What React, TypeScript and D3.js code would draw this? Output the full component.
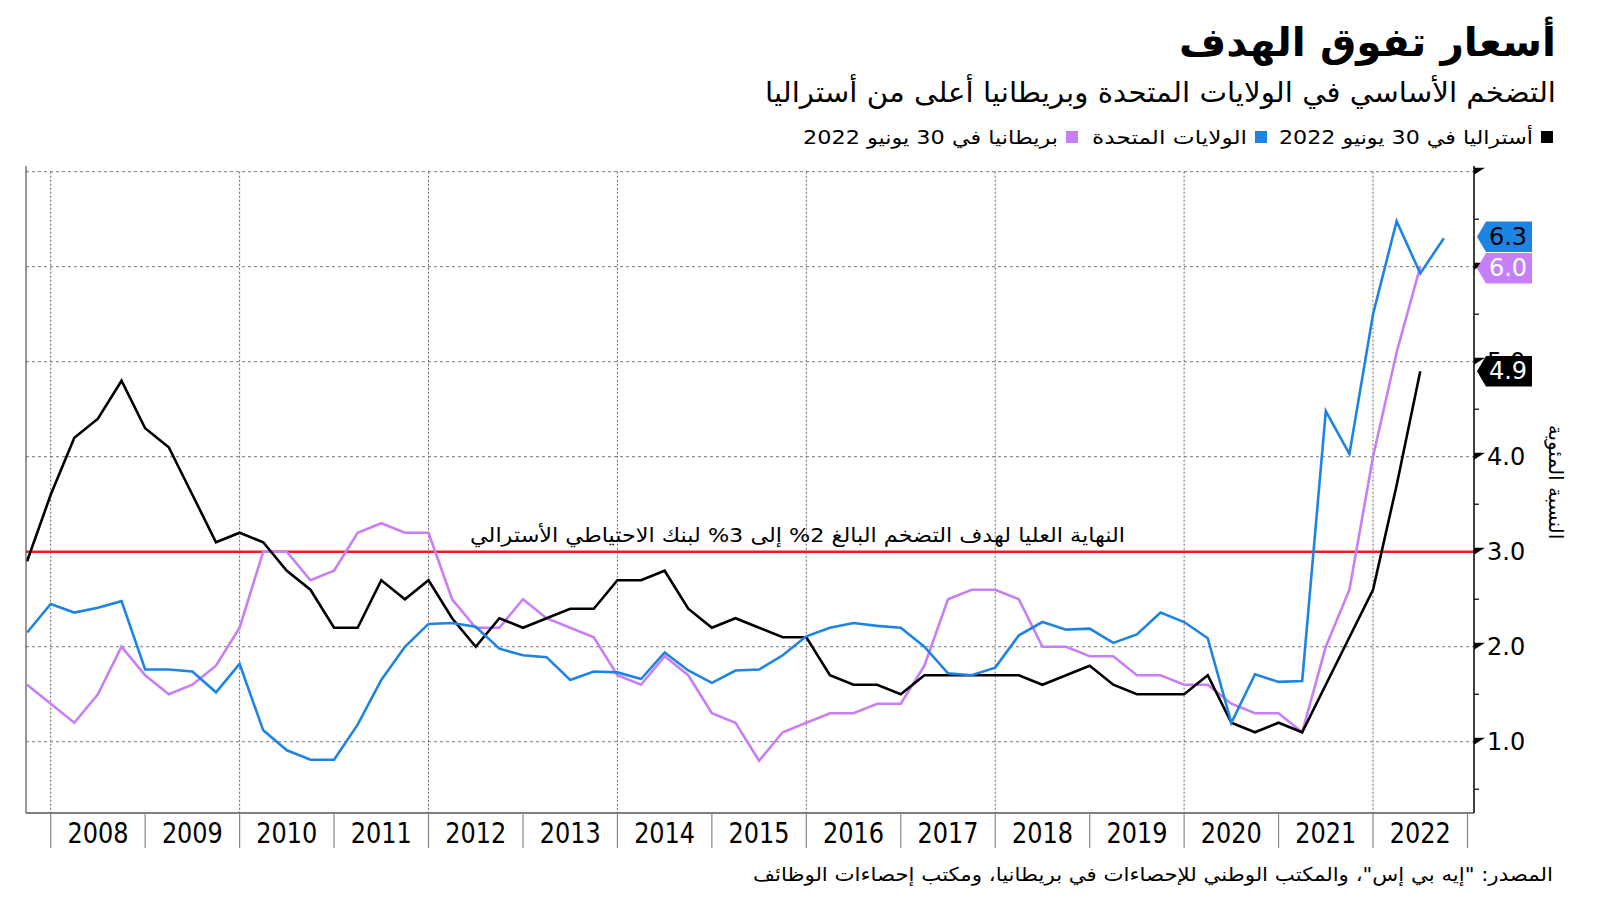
import React from 'react';
import * as d3 from 'd3';

// ---- data (quarterly, first point = 2007 Q4 position) ----
const firstQuarter = 2007.75;
const australia = [2.9, 3.6, 4.2, 4.4, 4.8, 4.3, 4.1, 3.6, 3.1, 3.2, 3.1, 2.8, 2.6, 2.2, 2.2, 2.7, 2.5, 2.7, 2.3, 2.0, 2.3, 2.2, 2.3, 2.4, 2.4, 2.7, 2.7, 2.8, 2.4, 2.2, 2.3, 2.2, 2.1, 2.1, 1.7, 1.6, 1.6, 1.5, 1.7, 1.7, 1.7, 1.7, 1.7, 1.6, 1.7, 1.8, 1.6, 1.5, 1.5, 1.5, 1.7, 1.2, 1.1, 1.2, 1.1, 1.6, 2.1, 2.6, 3.7, 4.9];
const uk = [1.6, 1.4, 1.2, 1.5, 2.0, 1.7, 1.5, 1.6, 1.8, 2.2, 3.0, 3.0, 2.7, 2.8, 3.2, 3.3, 3.2, 3.2, 2.5, 2.2, 2.2, 2.5, 2.3, 2.2, 2.1, 1.7, 1.6, 1.9, 1.7, 1.3, 1.2, 0.8, 1.1, 1.2, 1.3, 1.3, 1.4, 1.4, 1.8, 2.5, 2.6, 2.6, 2.5, 2.0, 2.0, 1.9, 1.9, 1.7, 1.7, 1.6, 1.6, 1.4, 1.3, 1.3, 1.1, 2.0, 2.6, 4.0, 5.1, 6.0];
const us = [2.15, 2.45, 2.36, 2.41, 2.48, 1.76, 1.76, 1.74, 1.52, 1.82, 1.12, 0.91, 0.81, 0.81, 1.18, 1.65, 2.0, 2.24, 2.25, 2.21, 1.98, 1.91, 1.89, 1.65, 1.74, 1.73, 1.66, 1.94, 1.75, 1.62, 1.75, 1.76, 1.91, 2.11, 2.2, 2.25, 2.22, 2.2, 2.0, 1.72, 1.7, 1.78, 2.12, 2.26, 2.18, 2.19, 2.04, 2.13, 2.36, 2.26, 2.09, 1.2, 1.71, 1.63, 1.64, 4.48, 4.03, 5.5, 6.48, 5.93, 6.3];

const years = [2008, 2009, 2010, 2011, 2012, 2013, 2014, 2015, 2016, 2017, 2018, 2019, 2020, 2021, 2022];
const gridYears = [2008, 2010, 2012, 2014, 2016, 2018, 2020, 2022];
const yTicks = [1, 2, 3, 4, 5, 6, 7];
const yLabelTicks = [1, 2, 3, 4, 5, 6];
const yMinorTicks = [0.5, 1.5, 2.5, 3.5, 4.5, 5.5, 6.5];
const targetValue = 3;

const title = 'أسعار تفوق الهدف';
const subtitle = 'التضخم الأساسي في الولايات المتحدة وبريطانيا أعلى من أستراليا';
const legendLabels = ['أستراليا في 30 يونيو 2022', 'الولايات المتحدة', 'بريطانيا في 30 يونيو 2022'];
const targetLabel = 'النهاية العليا لهدف التضخم البالغ 2% إلى 3% لبنك الاحتياطي الأسترالي';
const yTitle = 'النسبة المئوية';
const source = 'المصدر: "إيه بي إس"، والمكتب الوطني للإحصاءات في بريطانيا، ومكتب إحصاءات الوظائف';

const COLORS = { au: '#000000', us: '#1e84e3', uk: '#c77ff7', red: '#ee1c25' };

const AR = '"DejaVu Sans", sans-serif';

export default function App() {
  const left = 26, right = 1474, top = 171.7, bottom = 813;
  const x = d3.scaleLinear().domain([2007.7385, 2023.069]).range([left, right]);
  const y = d3.scaleLinear().domain([0.25, 7]).range([bottom, top]);
  const t = (i: number) => firstQuarter + i * 0.25;
  const line = d3.line<number>().x((_, i) => x(t(i))).y((d) => y(d));

  const series = [
    { key: 'uk', data: uk, color: COLORS.uk, textColor: '#ffffff' },
    { key: 'au', data: australia, color: COLORS.au, textColor: '#ffffff' },
    { key: 'us', data: us, color: COLORS.us, textColor: '#000000' },
  ];

  // value tags with simple collision avoidance
  const tagH = 31.5;
  const tags = series
    .map((s) => ({ ...s, v: s.data[s.data.length - 1], cy: y(s.data[s.data.length - 1]) }))
    .sort((a, b) => a.cy - b.cy);
  for (let iter = 0; iter < 10; iter++) {
    for (let k = 1; k < tags.length; k++) {
      const gap = tags[k].cy - tags[k - 1].cy;
      if (gap < tagH) {
        const push = (tagH - gap) / 2;
        tags[k].cy += push;
        tags[k - 1].cy -= push;
      }
    }
  }

  const legendItems = [
    { label: legendLabels[0], color: COLORS.au, sq: 1541, tx: 1533, w: 254 },
    { label: legendLabels[1], color: COLORS.us, sq: 1255, tx: 1247, w: 155 },
    { label: legendLabels[2], color: COLORS.uk, sq: 1066, tx: 1058, w: 255 },
  ];

  return (
    <svg width={1600} height={901} style={{ position: 'absolute', left: 0, top: 0, background: '#fff' }}>
      <rect x={0} y={0} width={1600} height={901} fill="#fff" />
      {/* titles */}
      <text x={1556} y={56} direction="rtl" textAnchor="start" fontFamily={AR} fontWeight="bold" fontSize={40} textLength={377} lengthAdjust="spacingAndGlyphs">{title}</text>
      <text x={1556} y={102} direction="rtl" textAnchor="start" fontFamily={AR} fontSize={28} textLength={791} lengthAdjust="spacingAndGlyphs">{subtitle}</text>
      {legendItems.map((l) => (
        <g key={l.label}>
          <rect x={l.sq} y={131} width={12} height={12} fill={l.color} />
          <text x={l.tx} y={144} direction="rtl" textAnchor="start" fontFamily={AR} fontSize={19} textLength={l.w} lengthAdjust="spacingAndGlyphs">{l.label}</text>
        </g>
      ))}

      {/* horizontal grid */}
      {yTicks.filter((v) => v !== targetValue).map((v) => (
        <line key={'h' + v} x1={left} x2={right} y1={y(v)} y2={y(v)} stroke="#777" strokeWidth={1} strokeDasharray="3,3" />
      ))}
      {/* vertical grid */}
      {gridYears.map((yr) => (
        <line key={'v' + yr} x1={x(yr)} x2={x(yr)} y1={top} y2={bottom} stroke="#666" strokeWidth={1} strokeDasharray="2,2" />
      ))}

      {/* target line */}
      <line x1={left} x2={right} y1={y(targetValue)} y2={y(targetValue)} stroke={COLORS.red} strokeWidth={2.5} />
      <text x={1125} y={y(targetValue) - 10} direction="rtl" textAnchor="start" fontFamily={AR} fontSize={20} textLength={655} lengthAdjust="spacingAndGlyphs">{targetLabel}</text>

      {/* series */}
      {series.map((s) => (
        <path key={s.key} d={line(s.data) || ''} fill="none" stroke={s.color} strokeWidth={2.6} strokeLinejoin="miter" />
      ))}

      {/* axes */}
      <line x1={left} x2={left} y1={166} y2={bottom} stroke="#555" strokeWidth={1.2} />
      <line x1={left} x2={right} y1={bottom} y2={bottom} stroke="#555" strokeWidth={1.5} />
      <line x1={right} x2={right} y1={166} y2={bottom} stroke="#000" strokeWidth={1.5} />
      {yTicks.map((v) => (
        <path key={'t' + v} d={`M${right},${y(v) - 4}L${right + 11},${y(v) - 4}L${right},${y(v) + 3}Z`} fill="#000" />
      ))}
      {yMinorTicks.map((v) => (
        <line key={'m' + v} x1={right} x2={right + 5} y1={y(v)} y2={y(v)} stroke="#000" strokeWidth={1.2} />
      ))}
      {yLabelTicks.map((v) => (
        <text key={'l' + v} x={1487} y={y(v)} dominantBaseline="central" fontFamily={AR} fontSize={24} fill="#000">{v.toFixed(1)}</text>
      ))}
      <text transform={`translate(1556,482) rotate(90)`} textAnchor="middle" dominantBaseline="central" fontFamily={AR} fontSize={20} direction="rtl">{yTitle}</text>

      {/* x axis year ticks and labels */}
      {[...years, 2023].map((yr) => (
        <line key={'xt' + yr} x1={x(yr)} x2={x(yr)} y1={bottom} y2={848} stroke="#888" strokeWidth={1.2} />
      ))}
      {years.map((yr) => (
        <text key={'xl' + yr} x={x(yr + 0.5)} y={843} textAnchor="middle" fontFamily='"DejaVu Sans Condensed", "DejaVu Sans", sans-serif' fontSize={29} textLength={61} lengthAdjust="spacingAndGlyphs">{yr}</text>
      ))}

      {/* value tags */}
      {tags.map((tg) => (
        <g key={'tag' + tg.key}>
          <path d={`M${right + 3},${tg.cy}L${right + 12},${tg.cy - tagH / 2 + 0.5}L1532,${tg.cy - tagH / 2 + 0.5}L1532,${tg.cy + tagH / 2 - 0.5}L${right + 12},${tg.cy + tagH / 2 - 0.5}Z`} fill={tg.color} />
          <text x={1508} y={tg.cy} textAnchor="middle" dominantBaseline="central" fontFamily={AR} fontSize={24} fill={tg.textColor}>{tg.v.toFixed(1)}</text>
        </g>
      ))}

      {/* source */}
      <text x={1553} y={881} direction="rtl" textAnchor="start" fontFamily={AR} fontSize={19} textLength={800} lengthAdjust="spacingAndGlyphs">{source}</text>
    </svg>
  );
}
